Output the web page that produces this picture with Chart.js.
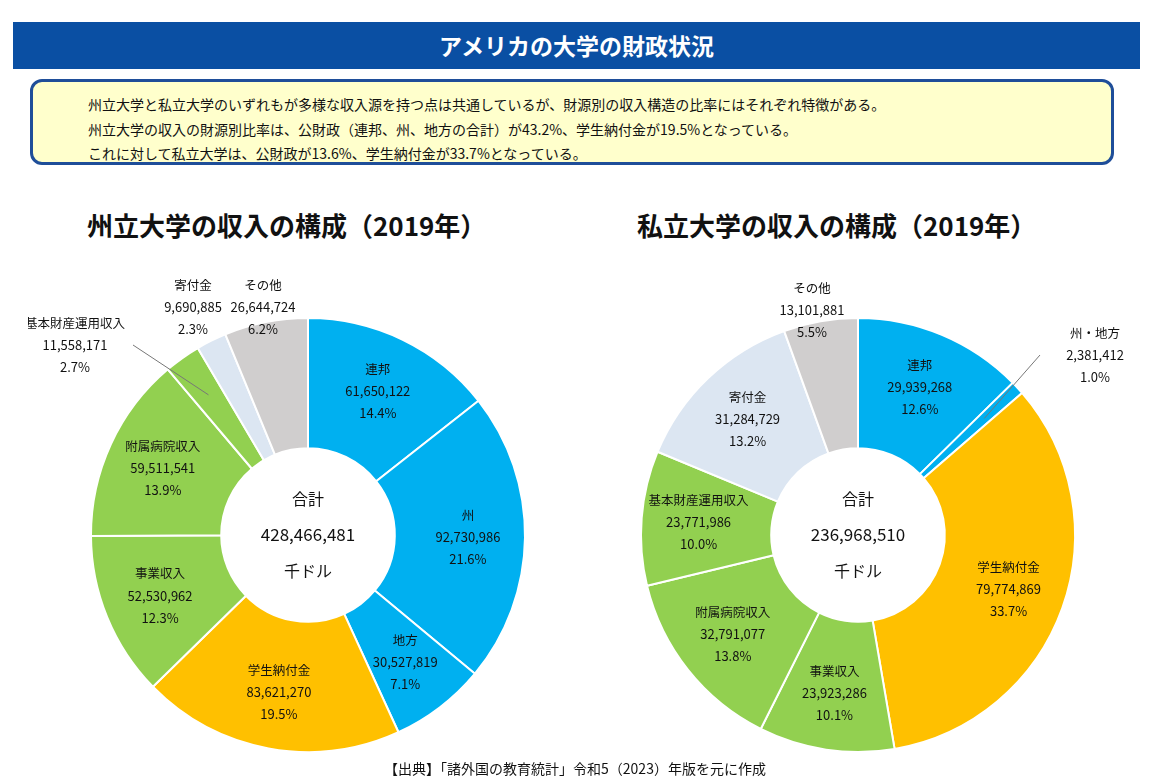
<!DOCTYPE html>
<html><head><meta charset="utf-8">
<script src="https://cdn.jsdelivr.net/npm/chart.js@4"></script>
<style>
body{margin:0;width:1150px;height:781px;background:#fff;font-family:"Noto Sans CJK JP",sans-serif;position:relative;overflow:hidden}
.banner{position:absolute;left:13px;top:22px;width:1127px;height:47px;background:#0a4fa3;color:#fff;font-size:23px;font-weight:bold;text-align:center;line-height:47px}
.note{position:absolute;left:30px;top:79px;width:1084px;height:86px;background:#ffffcc;border:3px solid #1f4e99;border-radius:12px;box-sizing:border-box;padding:10px 0 0 55px;font-size:14px;line-height:24.5px;color:#111}
.ttl{position:absolute;top:206px;font-size:26px;font-weight:bold;color:#111}
.cv{position:absolute;top:270px;width:560px;height:530px}
.src{position:absolute;left:0;width:1150px;top:758px;text-align:center;font-size:14px;color:#111}
</style></head><body>
<div class="banner">アメリカの大学の財政状況</div>
<div class="note">州立大学と私立大学のいずれもが多様な収入源を持つ点は共通しているが、財源別の収入構造の比率にはそれぞれ特徴がある。<br>州立大学の収入の財源別比率は、公財政（連邦、州、地方の合計）が43.2%、学生納付金が19.5%となっている。<br>これに対して私立大学は、公財政が13.6%、学生納付金が33.7%となっている。</div>
<div class="ttl" style="left:87px">州立大学の収入の構成（2019年）</div>
<div class="ttl" style="left:637px">私立大学の収入の構成（2019年）</div>
<div class="cv" style="left:28px"><canvas id="c1" width="560" height="530"></canvas></div>
<div class="cv" style="left:578px"><canvas id="c2" width="560" height="530"></canvas></div>
<div class="src">【出典】「諸外国の教育統計」令和5（2023）年版を元に作成</div>
<script>
const BLUE = "#00b0f0", YEL = "#ffc000", GRN = "#92d050", LBL = "#dce6f2", GRY = "#d0cece";

const pubLabels = ["連邦", "州", "地方", "学生納付金", "事業収入", "附属病院収入", "基本財産運用収入", "寄付金", "その他"];
const pubValues = [61650122, 92730986, 30527819, 83621270, 52530962, 59511541, 11558171, 9690885, 26644724];
const pubPct = ["14.4%", "21.6%", "7.1%", "19.5%", "12.3%", "13.9%", "2.7%", "2.3%", "6.2%"];
const pubColors = [BLUE, BLUE, BLUE, YEL, GRN, GRN, GRN, LBL, GRY];
const pubTotal = "428,466,481";

const priLabels = ["連邦", "州・地方", "学生納付金", "事業収入", "附属病院収入", "基本財産運用収入", "寄付金", "その他"];
const priValues = [29939268, 2381412, 79774869, 23923286, 32791077, 23771986, 31284729, 13101881];
const priPct = ["12.6%", "1.0%", "33.7%", "10.1%", "13.8%", "10.0%", "13.2%", "5.5%"];
const priColors = [BLUE, BLUE, YEL, GRN, GRN, GRN, LBL, GRY];
const priTotal = "236,968,510";

// outside label placement (offset from chart centre) for thin slices
const pubOutside = {6: [-233, -190, true], 7: [-115, -228, false], 8: [-45, -228, false]};
const priOutside = {1: [237, -180, true], 7: [-46, -225, false]};

const labelPlugin = {
  id: "labels",
  afterDraw(chart, args, opts) {
    const ctx = chart.ctx;
    const meta = chart.getDatasetMeta(0);
    const ds = chart.data.datasets[0];
    ctx.save();
    ctx.fillStyle = "#111";
    ctx.textAlign = "center";
    ctx.textBaseline = "middle";
    meta.data.forEach((arc, i) => {
      const p = arc.getProps(["x", "y", "startAngle", "endAngle", "innerRadius", "outerRadius"], true);
      const a = (p.startAngle + p.endAngle) / 2;
      const lines = [chart.data.labels[i], ds.data[i].toLocaleString("en-US"), opts.pct[i]];
      let cx, cy;
      const out = opts.outside[i];
      if (out) {
        cx = p.x + out[0]; cy = p.y + out[1];
        if (out[2]) {
          const r = (p.innerRadius + p.outerRadius) / 2 + 20;
          ctx.strokeStyle = "#777"; ctx.lineWidth = 1;
          ctx.beginPath();
          ctx.moveTo(cx + (out[0] > 0 ? -55 : 58), cy);
          ctx.lineTo(p.x + Math.cos(a) * r, p.y + Math.sin(a) * r);
          ctx.stroke();
        }
      } else {
        const r = (p.innerRadius + p.outerRadius) / 2 + 8;
        cx = p.x + Math.cos(a) * r; cy = p.y + Math.sin(a) * r;
      }
      ctx.font = "12.5px 'Noto Sans CJK JP'";
      ctx.fillText(lines[0], cx, cy - 22);
      ctx.font = "13px 'Noto Sans CJK JP'";
      ctx.fillText(lines[1], cx, cy);
      ctx.fillText(lines[2], cx, cy + 22);
    });
    const a0 = meta.data[0];
    ctx.font = "16px 'Noto Sans CJK JP'";
    ctx.fillText("合計", a0.x, a0.y - 36);
    ctx.font = "17px 'Noto Sans CJK JP'";
    ctx.fillText(opts.total, a0.x, a0.y);
    ctx.font = "16px 'Noto Sans CJK JP'";
    ctx.fillText("千ドル", a0.x, a0.y + 36);
    ctx.restore();
  }
};

function makeChart(id, labels, values, colors, pct, outside, total) {
  new Chart(document.getElementById(id), {
    type: "doughnut",
    data: {labels: labels, datasets: [{data: values, backgroundColor: colors, borderColor: "#fff", borderWidth: 2}]},
    options: {
      responsive: false,
      animation: false,
      cutout: "40%",
      layout: {padding: {top: 47, bottom: 47, left: 62, right: 62}},
      plugins: {legend: {display: false}, tooltip: {enabled: false},
        labels: {pct: pct, outside: outside, total: total}}
    },
    plugins: [labelPlugin]
  });
}
makeChart("c1", pubLabels, pubValues, pubColors, pubPct, pubOutside, pubTotal);
makeChart("c2", priLabels, priValues, priColors, priPct, priOutside, priTotal);
</script>
</body></html>
